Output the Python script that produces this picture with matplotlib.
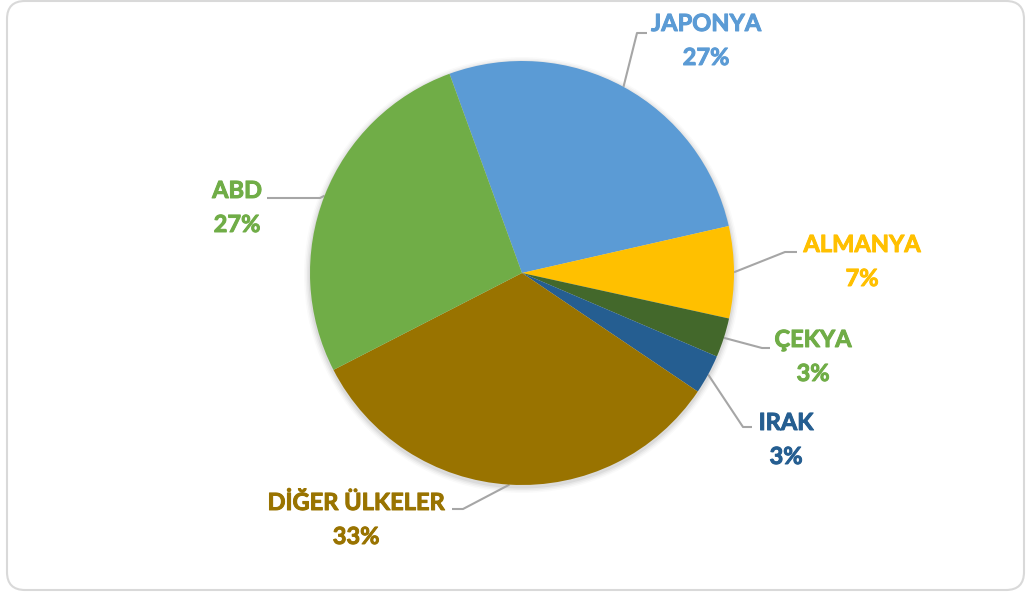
#pie chart of export shares by country
import numpy as np
import matplotlib.pyplot as plt
import matplotlib.patheffects as pe
from matplotlib.patches import FancyBboxPatch, Circle

W, H = 1029, 594

countries = ['JAPONYA', 'ALMANYA', 'ÇEKYA', 'IRAK', 'DİĞER ÜLKELER', 'ABD']
shares = [27, 7, 3, 3, 33, 27]
slice_colors = ['#5B9BD5', '#FFC000', '#43682B', '#255E91', '#997300', '#70AD47']
text_colors = ['#5B9BD5', '#FFC000', '#70AD47', '#255E91', '#997300', '#70AD47']

# label layout in pixels from top-left: text center x, name baseline, elbow x, elbow y, line end x
label_layout = [
    (706, 31, 637, 33, 647),
    (862, 252, 785, 252, 797),
    (813, 347, 762, 348, 770),
    (786, 430, 743, 427, 752),
    (356, 510, 463, 509, 452),
    (237, 198, 320, 198, 267),
]

plt.rcParams['font.family'] = ['Lato', 'DejaVu Sans']

fig = plt.figure(figsize=(W / 100, H / 100), dpi=100)
ax = fig.add_axes([0, 0, 1, 1])

cx, cy, r = 522, H - 273, 212

# soft shadow around the pie
for k, a in enumerate([0.05, 0.04, 0.03, 0.02]):
    ax.add_patch(Circle((cx, cy - 2), r + 1.5 + 1.5 * k, color='#000000', alpha=a, lw=0, zorder=0))

wedges, _ = ax.pie(shares, colors=slice_colors, startangle=110, counterclock=False,
                   center=(cx, cy), radius=r, wedgeprops=dict(linewidth=0))
for w in wedges:
    w.set_zorder(2)

for w, name, s, col, lay in zip(wedges, countries, shares, text_colors, label_layout):
    tx, base, ex, ey, lx = lay
    mid = np.deg2rad((w.theta1 + w.theta2) / 2)
    px, py = cx + r * np.cos(mid), cy + r * np.sin(mid)
    ax.plot([px, ex, lx], [py, H - ey, H - ey], color='#A6A6A6', lw=1.5,
            solid_capstyle='butt', zorder=1)
    thick = [pe.withStroke(linewidth=0.7, foreground=col)]
    ax.text(tx, H - base, name, color=col, fontsize=17, fontweight='bold',
            ha='center', va='baseline', path_effects=thick)
    ax.text(tx, H - base - 34, f'{s}%', color=col, fontsize=17, fontweight='bold',
            ha='center', va='baseline', path_effects=thick)

ax.set_xlim(0, W)
ax.set_ylim(0, H)
ax.set_aspect('auto')
ax.axis('off')

border = FancyBboxPatch((7, H - 590), 1017, 589, boxstyle='round,pad=0,rounding_size=18',
                        ec='#D9D9D9', fc='none', lw=1.5, transform=ax.transData, clip_on=False)
ax.add_patch(border)

fig.savefig('out.png', dpi=100, facecolor='white')
